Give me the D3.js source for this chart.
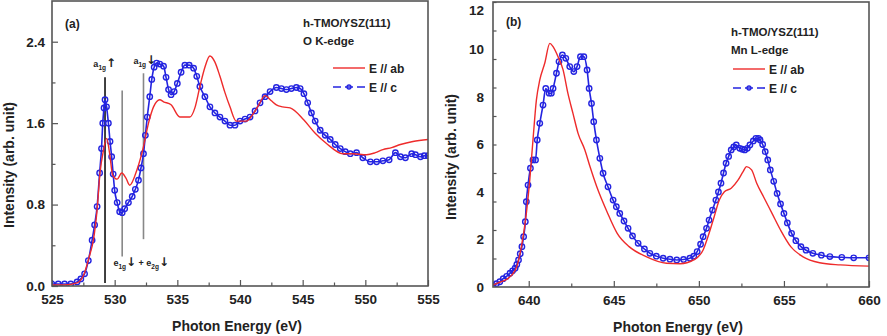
<!DOCTYPE html>
<html>
<head>
<meta charset="utf-8">
<script src="https://cdn.jsdelivr.net/npm/d3@7"></script>
<style>
  body { margin: 0; background: #fff; }
  text { font-family: "Liberation Sans", Arial, sans-serif; font-weight: bold; }
</style>
</head>
<body>
<script>
// Read the width and height of the page.
const width = 887;
const height = 336;

// Panel (a): O K-edge, energy (eV) and intensity
const okAbX = [525, 526, 527, 527.5, 528, 528.3, 528.6, 528.83, 529.1, 529.36, 529.6, 529.84, 530.2, 530.56, 530.9, 531.2, 531.8, 532.3, 532.7, 533.1, 533.6, 533.9, 534.5, 535.2, 536.0, 536.4, 536.8, 537.2, 537.6, 538.0, 538.4, 538.8, 539.2, 539.7, 540.5, 541.1, 541.5, 542.0, 542.5, 542.9, 543.4, 544.0, 545.1, 546.0, 546.9, 548.2, 549.0, 550.1, 550.8, 551.4, 552.1, 552.8, 553.8, 555.0];
const okAbY = [0.01, 0.01, 0.03, 0.1, 0.3, 0.45, 0.75, 1.11, 1.33, 1.45, 1.3, 1.09, 1.05, 1.11, 1.06, 0.99, 1.15, 1.37, 1.6, 1.76, 1.83, 1.81, 1.78, 1.66, 1.66, 1.75, 1.96, 2.15, 2.26, 2.2, 2.06, 1.9, 1.76, 1.62, 1.62, 1.7, 1.78, 1.87, 1.82, 1.78, 1.76, 1.75, 1.63, 1.5, 1.4, 1.3, 1.3, 1.29, 1.31, 1.34, 1.36, 1.39, 1.42, 1.44];

const okCX = [525, 525.5, 526, 526.5, 527, 527.3, 527.6, 527.9, 528.2, 528.4, 528.6, 528.8, 528.95, 529.05, 529.15, 529.23, 529.35, 529.5, 529.63, 529.76, 529.88, 530.0, 530.2, 530.4, 530.6, 530.8, 531.1, 531.4, 531.65, 531.9, 532.1, 532.3, 532.45, 532.6, 532.8, 532.96, 533.15, 533.35, 533.6, 533.9, 534.1, 534.3, 534.5, 534.75, 535.0, 535.3, 535.6, 535.95, 536.3, 536.55, 536.8, 537.2, 537.6, 538.0, 538.4, 538.8, 539.2, 539.6, 540.0, 540.4, 540.8, 541.2, 541.6, 542.0, 542.4, 542.9, 543.3, 543.7, 544.1, 544.5, 544.8, 545.1, 545.4, 545.7, 546.0, 546.4, 546.8, 547.2, 547.6, 548.0, 548.4, 548.8, 549.3, 549.8, 550.4, 550.9, 551.4, 551.9, 552.4, 552.8, 553.2, 553.7, 554.0, 554.4, 554.7, 555.0];
const okCY = [0.02, 0.02, 0.02, 0.02, 0.04, 0.07, 0.12, 0.25, 0.45, 0.6, 0.78, 1.11, 1.35, 1.6, 1.75, 1.83, 1.76, 1.6, 1.42, 1.27, 1.1, 0.94, 0.82, 0.73, 0.72, 0.76, 0.82, 0.88, 0.95, 1.04, 1.16, 1.3, 1.48, 1.66, 1.86, 2.03, 2.15, 2.19, 2.18, 2.16, 2.05, 1.93, 1.88, 1.91, 1.99, 2.1, 2.17, 2.17, 2.14, 2.06, 1.96, 1.86, 1.76, 1.7, 1.66, 1.62, 1.58, 1.58, 1.62, 1.64, 1.66, 1.72, 1.8, 1.86, 1.91, 1.95, 1.94, 1.93, 1.94, 1.95, 1.94, 1.89, 1.8, 1.7, 1.62, 1.53, 1.48, 1.44, 1.39, 1.35, 1.32, 1.3, 1.31, 1.26, 1.22, 1.22, 1.23, 1.24, 1.31, 1.27, 1.26, 1.3, 1.29, 1.27, 1.28, 1.28];

// Panel (b): Mn L-edge, energy (eV) and intensity
const mnAbX = [637.9, 638.3, 638.7, 639.0, 639.3, 639.57, 639.86, 640.06, 640.25, 640.45, 640.65, 640.94, 641.24, 641.43, 641.72, 642.02, 642.3, 642.6, 642.9, 643.3, 643.6, 644.0, 644.6, 645.2, 645.9, 646.9, 648.1, 648.9, 649.7, 650.25, 650.6, 650.9, 651.2, 651.5, 651.9, 652.3, 652.6, 652.8, 653.1, 653.4, 653.8, 654.3, 654.8, 655.4, 656.1, 657.1, 658.3, 660.0];
const mnAbY = [0.08, 0.2, 0.32, 0.5, 0.86, 1.7, 3.1, 4.5, 6.19, 7.87, 8.72, 9.42, 10.26, 10.12, 9.7, 9.14, 8.16, 7.31, 6.47, 5.77, 5.07, 4.22, 3.17, 2.26, 1.7, 1.28, 1.0, 0.98, 1.14, 1.56, 2.26, 2.96, 3.66, 4.01, 4.16, 4.5, 4.86, 5.07, 4.93, 4.37, 3.8, 3.1, 2.4, 1.7, 1.28, 1.02, 0.93, 0.88];

const mnCX = [637.9, 638.1, 638.3, 638.5, 638.7, 638.9, 639.05, 639.2, 639.3, 639.4, 639.5, 639.6, 639.7, 639.8, 639.86, 639.96, 640.1, 640.25, 640.4, 640.5, 640.65, 640.84, 641.0, 641.2, 641.33, 641.43, 641.63, 641.78, 641.98, 642.18, 642.41, 642.65, 642.84, 643.04, 643.24, 643.43, 643.55, 643.69, 643.82, 643.98, 644.18, 644.37, 644.66, 644.96, 645.15, 645.35, 645.6, 645.84, 646.1, 646.43, 646.8, 647.12, 647.5, 647.9, 648.3, 648.7, 649.1, 649.47, 649.7, 649.9, 650.1, 650.25, 650.45, 650.6, 650.8, 651.0, 651.15, 651.3, 651.45, 651.6, 651.75, 651.9, 652.05, 652.2, 652.4, 652.55, 652.7, 652.85, 653.0, 653.2, 653.35, 653.5, 653.6, 653.75, 653.9, 654.05, 654.2, 654.4, 654.6, 654.8, 655.0, 655.2, 655.45, 655.7, 656.0, 656.3, 656.7, 657.2, 657.7, 658.4, 659.1, 660.0];
const mnCY = [0.08, 0.14, 0.22, 0.35, 0.45, 0.58, 0.68, 0.79, 0.95, 1.14, 1.4, 1.7, 2.12, 2.75, 3.59, 4.29, 5.0, 5.35, 5.35, 6.19, 6.89, 7.66, 8.36, 8.16, 8.16, 8.36, 9.0, 9.49, 9.77, 9.63, 9.28, 9.07, 9.28, 9.7, 9.7, 9.14, 8.36, 7.73, 6.96, 6.19, 5.42, 4.79, 4.22, 3.66, 3.38, 3.1, 2.78, 2.47, 2.15, 1.84, 1.6, 1.42, 1.3, 1.21, 1.17, 1.14, 1.16, 1.21, 1.3, 1.49, 1.8, 2.12, 2.47, 2.82, 3.24, 3.66, 4.0, 4.37, 4.8, 5.21, 5.5, 5.77, 5.9, 5.98, 5.84, 5.8, 5.77, 5.84, 5.98, 6.15, 6.26, 6.26, 6.19, 6.0, 5.7, 5.35, 4.93, 4.45, 3.94, 3.5, 3.1, 2.7, 2.26, 1.95, 1.7, 1.55, 1.42, 1.34, 1.28, 1.25, 1.23, 1.23];

// Tick labels
const okXTicks = [525, 530, 535, 540, 545, 550, 555];
const okYTicks = [0.0, 0.8, 1.6, 2.4];
const mnXTicks = [640, 645, 650, 655, 660];
const mnYTicks = [0, 2, 4, 6, 8, 10, 12];

const red = '#ee2b2b';
const blue = '#2424e0';
const frame = '#555';

const svg = d3.select('body').append('svg').attr('width', width).attr('height', height);

const renderPanel = (opts) => {
    const g = svg.append('g').attr('transform', `translate(${opts.left},${opts.top})`);
    const x = d3.scaleLinear().domain(opts.xDomain).range([0, opts.w]);
    const y = d3.scaleLinear().domain(opts.yDomain).range([opts.h, 0]);

    // clip
    g.append('clipPath').attr('id', opts.id + '-clip')
        .append('rect').attr('width', opts.w).attr('height', opts.h);

    // x ticks (inward), major + minor
    g.append('g').attr('transform', `translate(0,${opts.h})`)
        .call(d3.axisBottom(x).tickValues(opts.xTicks).tickSize(-6).tickPadding(8).tickFormat(d3.format('d')));
    g.append('g').attr('transform', `translate(0,${opts.h})`)
        .call(d3.axisBottom(x).tickValues(opts.xMinor).tickSize(-3.5).tickFormat(''));

    // y ticks
    const yAxis = g.append('g')
        .call(d3.axisLeft(y).tickValues(opts.yTicks).tickSize(opts.yTickSize).tickPadding(opts.yPad).tickFormat(opts.yFormat));
    g.append('g')
        .call(d3.axisLeft(y).tickValues(opts.yMinor).tickSize(-3.5).tickFormat(''));

    g.selectAll('.domain').remove();
    g.selectAll('.tick line').attr('stroke', frame).attr('stroke-width', 1.2);
    g.selectAll('.tick text').attr('fill', '#222').style('font-size', '13.5px')
        .style('font-family', '"Liberation Sans", Arial, sans-serif').style('font-weight', 'bold');

    // top label partly cut in the reference: keep it inside the page
    if (opts.topLabelShift) {
        yAxis.selectAll('.tick text').filter((d) => d === opts.yDomain[1])
            .attr('dy', opts.topLabelShift);
    }

    const plot = g.append('g').attr('clip-path', `url(#${opts.id}-clip)`);

    // annotation lines behind the curves
    if (opts.annot) opts.annot(plot, x, y);

    const line = d3.line().x((d) => x(d[0])).y((d) => y(d[1])).curve(d3.curveMonotoneX);

    const abData = opts.abX.map((v, i) => [v, opts.abY[i]]);
    const cData = opts.cX.map((v, i) => [v, opts.cY[i]]);

    plot.append('path').datum(cData).attr('d', line)
        .attr('fill', 'none').attr('stroke', blue).attr('stroke-width', 1.6);
    plot.append('g').selectAll('circle').data(cData).join('circle')
        .attr('cx', (d) => x(d[0])).attr('cy', (d) => y(d[1])).attr('r', 2.7)
        .attr('fill', 'none').attr('stroke', blue).attr('stroke-width', 1.4);

    plot.append('path').datum(abData).attr('d', line)
        .attr('fill', 'none').attr('stroke', red).attr('stroke-width', 1.4);

    // frame
    g.append('rect').attr('width', opts.w).attr('height', opts.h)
        .attr('fill', 'none').attr('stroke', frame).attr('stroke-width', 1.6);

    // panel label
    g.append('text').attr('x', opts.labelX).attr('y', opts.labelY).attr('font-size', 12)
        .attr('fill', '#222').text(opts.label);

    // sample + edge
    g.append('text').attr('x', opts.legX).attr('y', opts.legY).attr('font-size', 11.5)
        .attr('fill', '#222').text('h-TMO/YSZ(111)');
    g.append('text').attr('x', opts.legX).attr('y', opts.legY + 18).attr('font-size', 11.5)
        .attr('fill', '#222').text(opts.edge);

    // legend
    const ly1 = opts.legLineY;
    const ly2 = ly1 + 19;
    g.append('line').attr('x1', opts.legLineX).attr('x2', opts.legLineX + 32)
        .attr('y1', ly1).attr('y2', ly1).attr('stroke', red).attr('stroke-width', 1.4);
    g.append('line').attr('x1', opts.legLineX).attr('x2', opts.legLineX + 32)
        .attr('y1', ly2).attr('y2', ly2).attr('stroke', blue).attr('stroke-width', 1.6)
        .attr('stroke-dasharray', '8,4');
    g.append('circle').attr('cx', opts.legLineX + 16).attr('cy', ly2).attr('r', 2)
        .attr('fill', 'none').attr('stroke', blue).attr('stroke-width', 1.3);
    g.append('text').attr('x', opts.legLineX + 36).attr('y', ly1 + 4.5).attr('font-size', 12)
        .attr('fill', '#222').text('E // ab');
    g.append('text').attr('x', opts.legLineX + 36).attr('y', ly2 + 4.5).attr('font-size', 12)
        .attr('fill', '#222').text('E // c');

    // axis titles
    g.append('text').attr('x', opts.w / 2 - 3).attr('y', opts.h + 45).attr('text-anchor', 'middle')
        .attr('font-size', 14).attr('fill', '#222').text('Photon Energy (eV)');
    g.append('text').attr('transform', `translate(${opts.yTitleX},${opts.yTitleY}) rotate(-90)`)
        .attr('text-anchor', 'middle').attr('font-size', 14).attr('fill', '#222')
        .text('Intensity  (arb. unit)');
};

// orbital labels with subscript and spin arrow
const orbital = (sel, x, yPos, letter, sub, arrow) => {
    const t = sel.append('text').attr('x', x).attr('y', yPos).attr('font-size', 9).attr('fill', '#222');
    t.append('tspan').text(letter);
    t.append('tspan').attr('font-size', 6.5).attr('dy', 3).text(sub);
    t.append('tspan').attr('font-size', 12).attr('font-family', '"DejaVu Sans", sans-serif')
        .attr('dy', -3).text(arrow);
    return t;
};

// Panel (a)
renderPanel({
    id: 'ok', left: 52, top: 1, w: 376, h: 285,
    xDomain: [525, 555], yDomain: [0, 2.8],
    xTicks: okXTicks, xMinor: d3.range(527.5, 555, 5),
    yTicks: okYTicks, yMinor: [0.4, 1.2, 2.0], yTickSize: -6, yPad: 7,
    yFormat: d3.format('.1f'),
    abX: okAbX, abY: okAbY, cX: okCX, cY: okCY,
    label: '(a)', labelX: 13, labelY: 27,
    legX: 251, legY: 26, edge: 'O K-edge',
    legLineX: 281, legLineY: 67,
    yTitleX: -38, yTitleY: 164,
    annot: (plot, x, y) => {
        const lines = [
            { e: 529.23, top: 2.05, bot: 0.03, c: '#111' },
            { e: 530.6, top: 1.92, bot: 0.29, c: '#888' },
            { e: 532.3, top: 2.09, bot: 0.46, c: '#888' }
        ];
        plot.append('g').selectAll('line').data(lines).join('line')
            .attr('x1', (d) => x(d.e)).attr('x2', (d) => x(d.e))
            .attr('y1', (d) => y(d.top)).attr('y2', (d) => y(d.bot))
            .attr('stroke', (d) => d.c).attr('stroke-width', 1.6);
        orbital(plot, x(528.3), y(2.15), 'a', '1g', '↑');
        orbital(plot, x(531.5), y(2.18), 'a', '1g', '↓');
        const t = orbital(plot, x(529.9), y(0.2), 'e', '1g', '↓');
        t.append('tspan').attr('font-size', 9).attr('dy', 0).text(' + e');
        t.append('tspan').attr('font-size', 6.5).attr('dy', 3).text('2g');
        t.append('tspan').attr('font-size', 12).attr('font-family', '"DejaVu Sans", sans-serif')
            .attr('dy', -3).text('↓');
    }
});

// Panel (b)
renderPanel({
    id: 'mn', left: 493, top: 2, w: 376, h: 285,
    xDomain: [637.9, 660], yDomain: [0, 12],
    xTicks: mnXTicks, xMinor: d3.range(642.5, 660, 5),
    yTicks: mnYTicks, yMinor: d3.range(1.2, 12, 1.2), yTickSize: 0, yPad: 9,
    yFormat: d3.format('d'), topLabelShift: '0.95em',
    abX: mnAbX, abY: mnAbY, cX: mnCX, cY: mnCY,
    label: '(b)', labelX: 13, labelY: 24,
    legX: 238, legY: 34, edge: 'Mn L-edge',
    legLineX: 240, legLineY: 67,
    yTitleX: -37, yTitleY: 155
});
</script>
</body>
</html>
